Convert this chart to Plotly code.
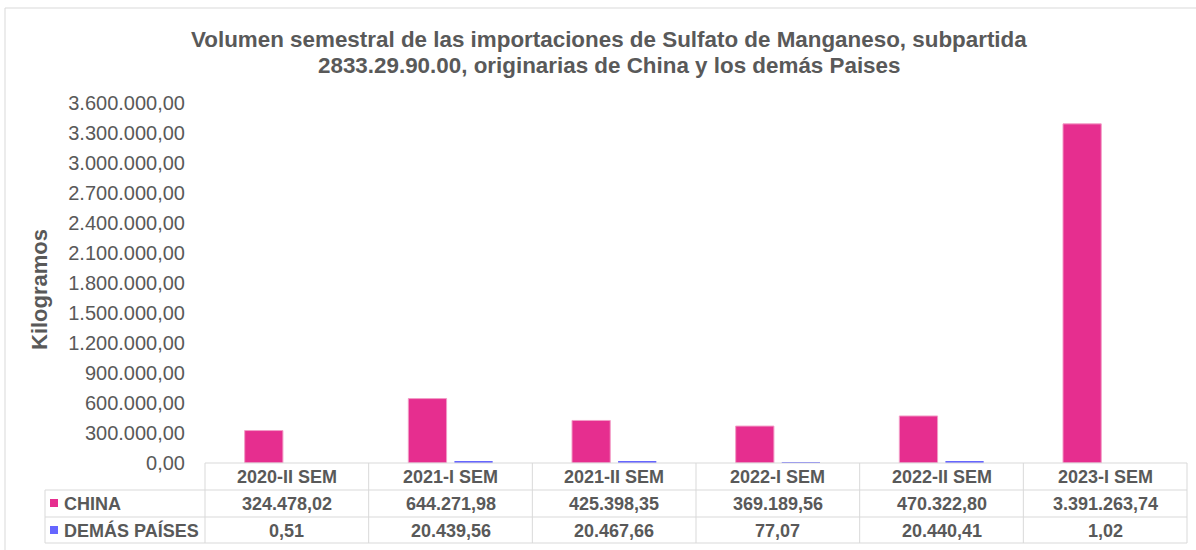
import plotly.graph_objects as go

categories = ["2020-II SEM", "2021-I SEM", "2021-II SEM", "2022-I SEM", "2022-II SEM", "2023-I SEM"]
china = [324478.02, 644271.98, 425398.35, 369189.56, 470322.80, 3391263.74]
demas = [0.51, 20439.56, 20467.66, 77.07, 20440.41, 1.02]
series_names = ["CHINA", "DEMÁS PAÍSES"]
title_lines = ["Volumen semestral de las importaciones de Sulfato de Manganeso, subpartida",
               "2833.29.90.00, originarias de China y los demás Paises"]
y_title = "Kilogramos"

PINK = "#E62E8F"
BLUE = "#6666FF"
TXT = "#595959"
GRID = "#D9D9D9"
FONT = "Liberation Sans, Arial, sans-serif"

W, H = 1196, 550
L, R, T, B = 205, 1187, 103, 463


def px(x):
    return (x - L) / (R - L)


def py(y):
    return (B - y) / (B - T)


def fmt(v):
    s = f"{v:,.2f}"
    return s.replace(",", "X").replace(".", ",").replace("X", ".")


fig = go.Figure()
fig.add_trace(go.Bar(x=categories, y=china, name=series_names[0],
                     marker=dict(color=PINK, line=dict(color="#F29CC6", width=1))))
fig.add_trace(go.Bar(x=categories, y=demas, name=series_names[1],
                     marker=dict(color=BLUE, line=dict(width=0))))

shapes = []
line = dict(color=GRID, width=1)
# outer frame (left and top edges)
shapes.append(dict(type="line", xref="paper", yref="paper", x0=px(5), x1=px(1200), y0=py(8), y1=py(8), line=line))
shapes.append(dict(type="line", xref="paper", yref="paper", x0=px(5), x1=px(5), y0=py(8), y1=py(560), line=line))
# table horizontal lines
shapes.append(dict(type="line", xref="paper", yref="paper", x0=px(L), x1=px(R), y0=py(463), y1=py(463), line=line))
for yy in [490, 517, 543]:
    shapes.append(dict(type="line", xref="paper", yref="paper", x0=px(45), x1=px(R), y0=py(yy), y1=py(yy), line=line))
# table vertical lines
shapes.append(dict(type="line", xref="paper", yref="paper", x0=px(45), x1=px(45), y0=py(490), y1=py(543), line=line))
n = len(categories)
for i in range(n + 1):
    xx = L + i * (R - L) / n
    shapes.append(dict(type="line", xref="paper", yref="paper", x0=px(xx), x1=px(xx), y0=py(463), y1=py(543), line=line))
# legend keys
shapes.append(dict(type="rect", xref="paper", yref="paper", x0=px(50), x1=px(58), y0=py(507), y1=py(499),
                   fillcolor=PINK, line=dict(width=0)))
shapes.append(dict(type="rect", xref="paper", yref="paper", x0=px(50), x1=px(58), y0=py(534), y1=py(526),
                   fillcolor=BLUE, line=dict(width=0)))

ann = []
tfont_title = dict(size=22.4, color=TXT, family=FONT, weight="bold")
for t, yc in zip(title_lines, [40, 65.5]):
    ann.append(dict(text=t, xref="paper", yref="paper", x=px(609), y=py(yc), showarrow=False,
                    xanchor="center", yanchor="middle", font=tfont_title))
ann.append(dict(text=y_title, xref="paper", yref="paper", x=px(39), y=py(290), showarrow=False, textangle=-90,
                xanchor="center", yanchor="middle", font=dict(size=22, color=TXT, family=FONT, weight="bold")))
tfont = dict(size=18, color=TXT, family=FONT, weight="bold")
for i, c in enumerate(categories):
    ann.append(dict(text=c, xref="x", yref="paper", x=c, y=py(476.5), showarrow=False,
                    xanchor="center", yanchor="middle", font=tfont))
    ann.append(dict(text=fmt(china[i]), xref="x", yref="paper", x=c, y=py(503.5), showarrow=False,
                    xanchor="center", yanchor="middle", font=tfont))
    ann.append(dict(text=fmt(demas[i]), xref="x", yref="paper", x=c, y=py(530.5), showarrow=False,
                    xanchor="center", yanchor="middle", font=tfont))
ann.append(dict(text=series_names[0], xref="paper", yref="paper", x=px(62), y=py(503.5), showarrow=False,
                xanchor="left", yanchor="middle", font=tfont))
ann.append(dict(text=series_names[1], xref="paper", yref="paper", x=px(62), y=py(530.5), showarrow=False,
                xanchor="left", yanchor="middle", font=tfont))

fig.update_layout(
    width=W, height=H,
    margin=dict(l=L, r=W - R, t=T, b=H - B, pad=0),
    paper_bgcolor="white", plot_bgcolor="white",
    barmode="group", bargap=0.437, bargroupgap=0.17,
    showlegend=False,
    separators=",.",
    shapes=shapes, annotations=ann,
    font=dict(family=FONT, color=TXT),
)
fig.update_xaxes(showticklabels=False, showgrid=False, zeroline=False, showline=False, ticks="")
fig.update_yaxes(range=[0, 3600000], dtick=300000, tick0=0, tickformat=",.2f", showgrid=False,
                 zeroline=False, showline=False, ticks="", ticklabelstandoff=19,
                 tickfont=dict(size=20, color=TXT, family=FONT))

fig.write_html("out.html", config={"displayModeBar": False},
               post_script="document.body.style.margin='0';document.body.style.padding='0';")
